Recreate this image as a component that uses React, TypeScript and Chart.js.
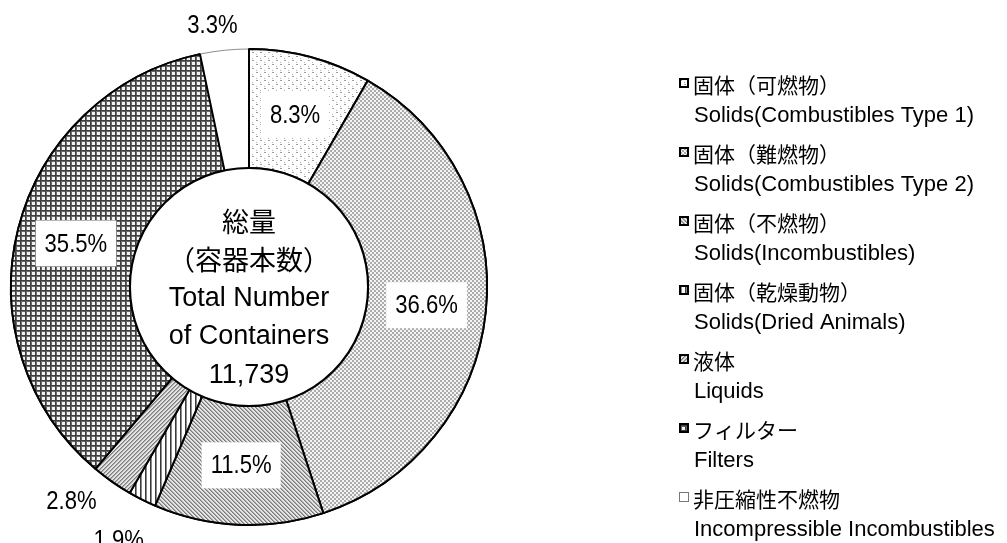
import React, { useEffect, useRef } from 'react';
import { Chart, registerables } from 'chart.js';

Chart.register(...registerables);

// ---- data ----
const categoriesJa = ['固体（可燃物）', '固体（難燃物）', '固体（不燃物）', '固体（乾燥動物）', '液体', 'フィルター', '非圧縮性不燃物'];
const categoriesEn = [
  'Solids(Combustibles Type 1)',
  'Solids(Combustibles Type 2)',
  'Solids(Incombustibles)',
  'Solids(Dried Animals)',
  'Liquids',
  'Filters',
  'Incompressible Incombustibles',
];
const sharePercent = [8.3, 36.6, 11.5, 1.9, 2.8, 35.5, 3.3];
const totalContainers = 11739;
const centerTitle = ['総量', '（容器本数）', 'Total Number', 'of Containers'];

// ---- styles ----
const patternKinds = ['sparseDots', 'checker', 'backDiag', 'vertical', 'fwdDiag', 'grid', 'white'];
const outsideAngleShiftDeg = [0, 0, 0, 0.6, 4.6, 0, -2];
const outsideGap = [16, 16, 16, 26, 16, 16, 13];
const PCT_FONT = '26px "Liberation Sans", Arial, sans-serif';
const PCT_CONDENSE = 0.85;
const JA_FONT = '"Noto Sans CJK JP", sans-serif';
const EN_FONT = '"Liberation Sans", Arial, sans-serif';

function makeTile(w: number, h: number, paint: (x: number, y: number) => string | null): HTMLCanvasElement {
  const c = document.createElement('canvas');
  c.width = w;
  c.height = h;
  const g = c.getContext('2d')!;
  g.fillStyle = '#ffffff';
  g.fillRect(0, 0, w, h);
  for (let y = 0; y < h; y++) {
    for (let x = 0; x < w; x++) {
      const col = paint(x, y);
      if (col) {
        g.fillStyle = col;
        g.fillRect(x, y, 1, 1);
      }
    }
  }
  return c;
}

function makePattern(ctx: CanvasRenderingContext2D, kind: string): CanvasPattern | string {
  let tile: HTMLCanvasElement | null = null;
  if (kind === 'sparseDots') {
    tile = makeTile(8, 8, (x, y) => {
      if (y === 0 && (x === 0 || x === 1)) return '#9a9a9a';
      if (y === 2 && x === 4) return '#b0b0b0';
      if (y === 4 && (x === 4 || x === 5)) return '#a0a0a0';
      if (y === 6 && x === 0) return '#b8b8b8';
      return null;
    });
  } else if (kind === 'checker') {
    tile = makeTile(4, 4, (x, y) => {
      const cx = Math.floor(x / 2);
      const cy = Math.floor(y / 2);
      return (cx + cy) % 2 === 0 ? '#ababab' : '#f4f4f4';
    });
  } else if (kind === 'backDiag') {
    tile = makeTile(4, 4, (x, y) => {
      const d = (x - y + 8) % 4;
      if (d === 0) return '#7a7a7a';
      if (d === 1) return '#a8a8a8';
      return '#e6e6e6';
    });
  } else if (kind === 'vertical') {
    tile = makeTile(5, 1, (x) => {
      if (x === 0) return '#3a3a3a';
      if (x === 1) return '#8a8a8a';
      return '#ffffff';
    });
  } else if (kind === 'fwdDiag') {
    tile = makeTile(4, 4, (x, y) => {
      const d = (x + y) % 4;
      if (d === 0) return '#7e7e7e';
      if (d === 1) return '#a8a8a8';
      return '#e4e4e4';
    });
  } else if (kind === 'grid') {
    tile = makeTile(5, 5, (x, y) => {
      if (x < 2 || y < 2) return x < 1 || y < 1 ? '#3e3e3e' : '#6a6a6a';
      return '#f2f2f2';
    });
  }
  if (!tile) return '#ffffff';
  return ctx.createPattern(tile, 'repeat') || '#cccccc';
}

export default function App() {
  const canvasRef = useRef<HTMLCanvasElement | null>(null);

  useEffect(() => {
    const canvas = canvasRef.current;
    if (!canvas) return;
    const ctx0 = canvas.getContext('2d')!;
    const fills = patternKinds.map((k) => makePattern(ctx0, k));
    const whiteIndex = patternKinds.indexOf('white');

    const decorPlugin = {
      id: 'decor',
      afterDatasetsDraw(chart: any) {
        const ctx: CanvasRenderingContext2D = chart.ctx;
        const meta = chart.getDatasetMeta(0);
        // re-stroke patterned slices so their black edges sit above the white slice
        meta.data.forEach((arc: any, i: number) => {
          if (i !== whiteIndex) arc.draw(ctx);
        });
        const first = meta.data[0];
        const { x, y, innerRadius, outerRadius } = first.getProps(['x', 'y', 'innerRadius', 'outerRadius'], true);

        // inner circle
        ctx.save();
        ctx.beginPath();
        ctx.arc(x, y, innerRadius, 0, Math.PI * 2);
        ctx.fillStyle = '#ffffff';
        ctx.fill();
        ctx.lineWidth = 2;
        ctx.strokeStyle = '#000000';
        ctx.stroke();
        ctx.restore();

        // center text
        ctx.save();
        ctx.fillStyle = '#000000';
        ctx.textAlign = 'center';
        ctx.textBaseline = 'middle';
        const lines = [...centerTitle, totalContainers.toLocaleString('en-US')];
        const pitch = 38.5;
        lines.forEach((t, k) => {
          const isJa = /[\u3000-\u9fff\uff00-\uffef]/.test(t);
          ctx.font = isJa ? `27px ${JA_FONT}` : `27px ${EN_FONT}`;
          ctx.fillText(t, x, y + (k - 2) * pitch + 11.5);
        });
        ctx.restore();

        // percentage labels
        meta.data.forEach((arc: any, i: number) => {
          const { startAngle, endAngle } = arc.getProps(['startAngle', 'endAngle'], true);
          const v = sharePercent[i];
          const text = v.toFixed(1) + '%';
          ctx.save();
          ctx.font = PCT_FONT;
          const w = ctx.measureText(text).width * PCT_CONDENSE;
          let cx: number;
          let cy: number;
          if (v >= 5) {
            const mid = (startAngle + endAngle) / 2;
            const r = (innerRadius + outerRadius) / 2;
            cx = x + Math.cos(mid) * r;
            cy = y + Math.sin(mid) * r;
            ctx.fillStyle = '#ffffff';
            ctx.fillRect(cx - w / 2 - 9, cy - 23, w + 18, 46);
          } else {
            const a = (startAngle + endAngle) / 2 + (outsideAngleShiftDeg[i] * Math.PI) / 180;
            const h = 20;
            const ext = Math.abs(Math.cos(a)) * (w / 2) + Math.abs(Math.sin(a)) * (h / 2);
            const r = outerRadius + outsideGap[i] + ext;
            cx = x + Math.cos(a) * r;
            cy = y + Math.sin(a) * r;
          }
          ctx.translate(cx, cy);
          ctx.scale(PCT_CONDENSE, 1);
          ctx.fillStyle = '#000000';
          ctx.textAlign = 'center';
          ctx.textBaseline = 'middle';
          ctx.fillText(text, 0, 1);
          ctx.restore();
        });

        // legend
        const lx = 679;
        const tx = 693;
        const top = 85;
        const itemPitch = 69;
        categoriesJa.forEach((ja, i) => {
          const yy = top + i * itemPitch;
          ctx.save();
          if (i === whiteIndex) {
            ctx.fillStyle = '#ffffff';
            ctx.fillRect(lx, yy - 7, 10, 10);
            ctx.strokeStyle = '#777777';
            ctx.lineWidth = 1;
            ctx.strokeRect(lx + 0.5, yy - 6.5, 9, 9);
          } else {
            ctx.fillStyle = fills[i] as any;
            ctx.fillRect(lx, yy - 7, 10, 10);
            ctx.strokeStyle = '#000000';
            ctx.lineWidth = 2;
            ctx.strokeRect(lx + 1, yy - 6, 8, 8);
          }
          ctx.fillStyle = '#000000';
          ctx.textAlign = 'left';
          ctx.textBaseline = 'middle';
          ctx.font = `21px ${JA_FONT}`;
          ctx.fillText(ja, tx, yy);
          ctx.font = `22px ${EN_FONT}`;
          ctx.fillText(categoriesEn[i], tx + 1, yy + 31);
          ctx.restore();
        });
      },
    };

    const chart = new Chart(canvas, {
      type: 'doughnut',
      data: {
        labels: categoriesJa,
        datasets: [
          {
            data: sharePercent,
            backgroundColor: fills as any,
            borderColor: sharePercent.map((_, i) => (i === whiteIndex ? '#8c8c8c' : '#000000')),
            borderWidth: sharePercent.map((_, i) => (i === whiteIndex ? 1 : 2)),
            hoverOffset: 0,
          },
        ],
      },
      options: {
        responsive: false,
        devicePixelRatio: 1,
        animation: false,
        events: [],
        cutout: '50%',
        layout: { padding: { left: 10, top: 48, right: 519, bottom: 17 } },
        plugins: {
          legend: { display: false },
          tooltip: { enabled: false },
        },
      },
      plugins: [decorPlugin],
    });

    return () => chart.destroy();
  }, []);

  return (
    <canvas
      ref={canvasRef}
      width={1007}
      height={543}
      style={{ position: 'fixed', left: 0, top: 0, width: 1007, height: 543, display: 'block', background: '#ffffff' }}
    />
  );
}
